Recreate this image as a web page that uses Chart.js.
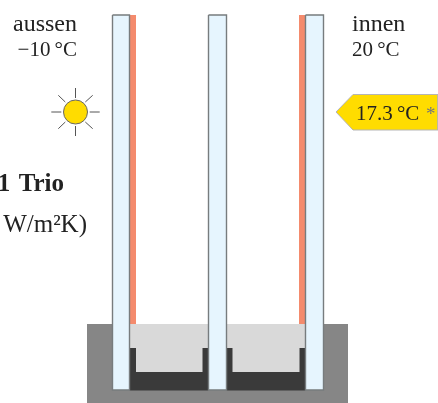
<!DOCTYPE html>
<html>
<head>
<meta charset="utf-8">
<script src="https://cdn.jsdelivr.net/npm/chart.js@4"></script>
<style>
  html, body { margin: 0; padding: 0; background: #fff; }
  canvas { display: block; }
</style>
</head>
<body>
<canvas id="chart" width="438" height="403"></canvas>
<script>
// glazing cross section
const frameX = [87, 348];
const frameY = [324, 403];

const paneLeft = [112.5, 208.5, 305.5];
const paneRight = [129.5, 226.5, 323.5];
const paneTop = [15, 15, 15];
const paneBottom = [390, 390, 390];

const coatingLeft = [129.5, 299];
const coatingRight = [136, 305.5];
const coatingY = [15, 324];

const gasLeft = [129.5, 226.5];
const gasRight = [208.5, 305.5];
const gasY = [324, 372];

const spacerLeft = [129.5, 226.5];
const spacerRight = [208.5, 305.5];
const spacerY = [348, 390.5];
const spacerGapLeft = [136, 232.5];
const spacerGapRight = [202.5, 299.5];
const spacerGapY = [348, 372];

const sunX = [75.5];
const sunY = [112];
const rayX1 = [51.3, 89.7, 75.5, 75.5, 58.3, 85.3, 58.3, 85.3];
const rayY1 = [112, 112, 88, 126, 95.3, 102, 128.7, 122];
const rayX2 = [61.3, 99.7, 75.5, 75.5, 65.3, 92.7, 65.3, 92.7];
const rayY2 = [112, 112, 98, 136, 102, 95.3, 122, 128.7];

const tagX = [336, 353, 438, 438, 353];
const tagY = [112, 94.5, 94.5, 130, 130];

const labelTexts = ['aussen', '−10\u2009°C', 'innen', '20\u2009°C', '1\u2004Trio', 'W/m²K)', '17.3\u2009°C', '*'];
const labelX = [77, 77, 352, 352, 64, 87, 356, 426];
const labelY = [31, 56, 31, 56, 191, 232, 120, 120];
const labelAlign = ['right', 'right', 'left', 'left', 'right', 'right', 'left', 'left'];
const labelBold = [false, false, false, false, true, false, false, false];
const labelSize = [24, 21, 24, 21, 25, 25, 21, 19];
const labelColor = ['#222', '#222', '#222', '#222', '#222', '#222', '#222', '#777'];

function box(x1, x2, y1, y2, fill, line) {
    return {
        data: [{x: x1, y: y1}, {x: x2, y: y1}, {x: x2, y: y2}, {x: x1, y: y2}, {x: x1, y: y1}],
        backgroundColor: fill,
        borderColor: line || fill,
        borderWidth: line ? 1.4 : 0,
        fill: 'shape'
    };
}

const shapes = [];
shapes.push(box(frameX[0], frameX[1], frameY[0], frameY[1], '#868686'));
coatingLeft.forEach((x, i) => shapes.push(box(x, coatingRight[i], coatingY[0], coatingY[1], '#f48b6d')));
gasLeft.forEach((x, i) => shapes.push(box(x, gasRight[i], gasY[0], gasY[1], '#d9d9d9')));
spacerLeft.forEach((x, i) => shapes.push(box(x, spacerRight[i], spacerY[0], spacerY[1], '#3a3a3a')));
spacerGapLeft.forEach((x, i) => shapes.push(box(x, spacerGapRight[i], spacerGapY[0], spacerGapY[1], '#d9d9d9')));
paneLeft.forEach((x, i) => shapes.push(box(x, paneRight[i], paneTop[i], paneBottom[i], '#e6f5fe', '#777c7e')));

shapes.push({
    data: tagX.map((x, i) => ({x: x, y: tagY[i]})).concat({x: tagX[0], y: tagY[0]}),
    backgroundColor: '#ffdc00',
    borderColor: '#b5b5b5',
    borderWidth: 1,
    fill: 'shape'
});

rayX1.forEach((x, i) => shapes.push({
    data: [{x: x, y: rayY1[i]}, {x: rayX2[i], y: rayY2[i]}],
    borderColor: '#555',
    borderWidth: 1,
    fill: false
}));

shapes.push({
    data: sunX.map((x, i) => ({x: x, y: sunY[i]})),
    showLine: false,
    pointRadius: 12,
    pointBackgroundColor: '#ffdc00',
    pointBorderColor: '#666',
    pointBorderWidth: 1
});

// chart.js paints the lowest order last, so keep the list order as paint order
shapes.forEach((s, i) => {
    s.order = shapes.length - i;
    if (s.pointRadius === undefined) s.pointRadius = 0;
    if (s.showLine === undefined) s.showLine = true;
    s.tension = 0;
    s.clip = false;
});

const textPlugin = {
    id: 'textPlugin',
    afterDatasetsDraw(chart) {
        const ctx = chart.ctx;
        ctx.save();
        labelTexts.forEach((t, i) => {
            ctx.font = (labelBold[i] ? 'bold ' : '') + labelSize[i] + 'px "Liberation Serif"';
            ctx.fillStyle = labelColor[i];
            ctx.textAlign = labelAlign[i];
            ctx.textBaseline = 'alphabetic';
            ctx.fillText(t, chart.scales.x.getPixelForValue(labelX[i]), chart.scales.y.getPixelForValue(labelY[i]));
        });
        ctx.restore();
    }
};

new Chart(document.getElementById('chart').getContext('2d'), {
    type: 'scatter',
    data: { datasets: shapes },
    plugins: [textPlugin],
    options: {
        responsive: false,
        animation: false,
        layout: { padding: 0, autoPadding: false },
        scales: {
            x: { type: 'linear', display: false, min: 0, max: 438 },
            y: { type: 'linear', display: false, min: 0, max: 403, reverse: true }
        },
        plugins: {
            legend: { display: false },
            tooltip: { enabled: false }
        }
    }
});
</script>
</body>
</html>
